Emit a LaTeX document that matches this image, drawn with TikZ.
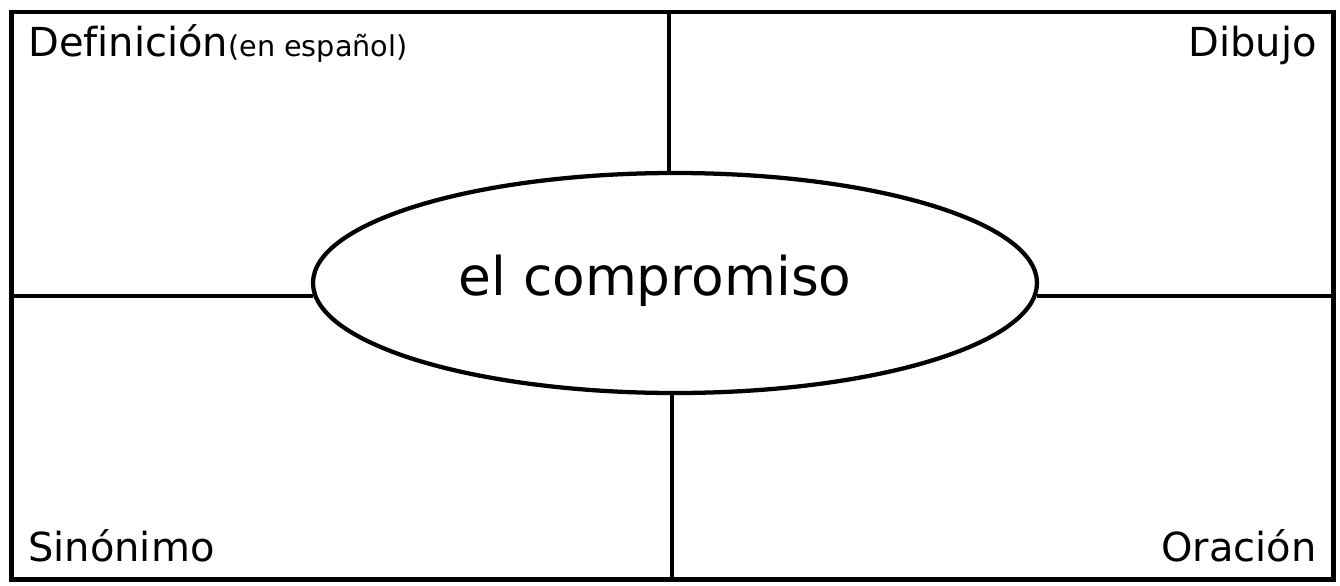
\documentclass[tikz,border=0pt]{standalone}
\usepackage{fontspec}
\setmainfont[Ligatures=NoCommon]{DejaVu Sans}
\usetikzlibrary{shapes.geometric}
\tikzset{
  panel/.style={line width=3.2pt},
  corner/.style={font=\fontsize{30}{36}\selectfont, inner sep=0pt}
}
\begin{document}
\begin{tikzpicture}[x=0.75pt, y=-0.75pt]
        \useasboundingbox (0,0) rectangle (1340,586);
        % Cadre
        \draw[panel] (11.5,12) coordinate (nw) rectangle (1333.5,579.5) coordinate (se);
        
        % Mot central
        \node[ellipse, draw, panel, minimum width=543pt, minimum height=165pt, inner sep=0pt,
              font=\fontsize{40}{48}\selectfont] (term) at (675,283) {};
        \node[anchor=base, inner sep=0pt, font=\fontsize{40}{48}\selectfont] (word) at (655,295) {el compromiso};
        
        % Traits de separation
        \coordinate (topcut) at (669,12);
        \coordinate (botcut) at (672,579.5);
        \draw[panel] (topcut) -- (topcut |- term.north);
        \draw[panel] (botcut) -- (botcut |- term.south);
        \draw[panel] (term.182.7) -- (term.182.7 -| nw);
        \draw[panel] (term.-2.1) -- (term.-2.1 -| se);
        
        % Cases
        \node[corner, anchor=base west] (defn) at (28,56) {Definición{\fontsize{21.5}{26}\selectfont(en español)}};
        \node[corner, anchor=base east] (draw) at (1317,56) {Dibujo};
        \node[corner, anchor=base west] (syn) at (28,561) {Sinónimo};
        \node[corner, anchor=base east] (sent) at (1317,561) {Oración};
    \end{tikzpicture}
\end{document}
